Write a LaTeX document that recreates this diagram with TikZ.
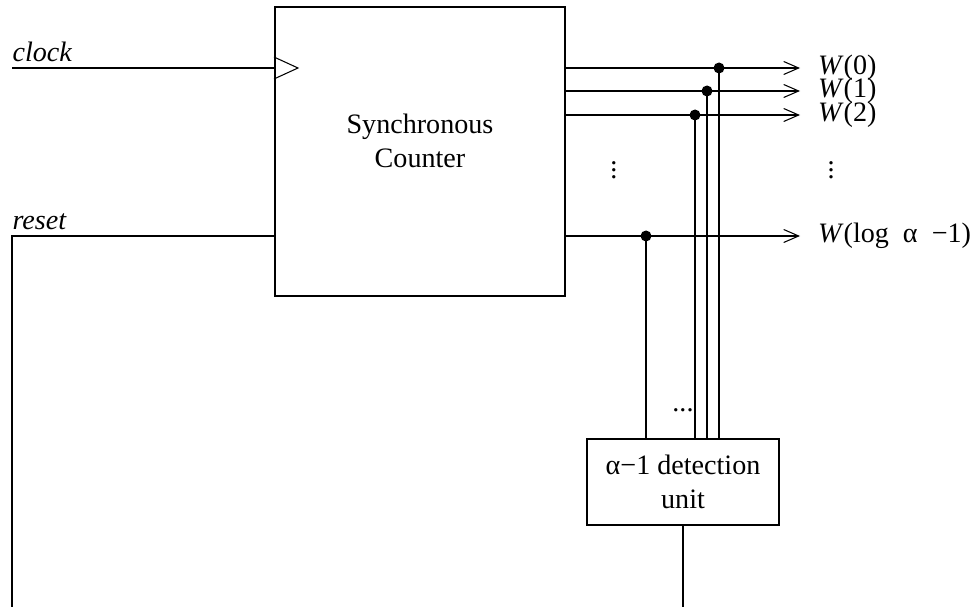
\documentclass[tikz,border=0pt]{standalone}
\usepackage{fontspec}
\setmainfont{Liberation Serif}
\usetikzlibrary{arrows.meta}

\begin{document}
\begin{tikzpicture}[x=0.02cm,y=-0.02cm,
	every text node part/.style={align=center},
	every node/.style={font=\fontsize{16}{19}\selectfont},
	wire/.style={line width=0.6pt},
	outwire/.style={wire,-{Straight Barb[length=3mm,width=2.6mm,line width=0.6pt]}},
	outlbl/.style={anchor=west,inner sep=0pt,xshift=10pt},
	blk/.style={draw,line width=1.2pt,rectangle,inner sep=0pt},
	jdot/.style={circle,fill,inner sep=0pt,minimum size=2.2mm}]
			\useasboundingbox (0,0) rectangle (979,607);
			% counter and detection unit
			\node[blk,minimum width=5.8cm,minimum height=5.78cm] (cnt) at (420,151.5) {};
			\node (cntlbl) at (420,141) {Synchronous\\Counter};
			\node[blk,minimum width=3.84cm,minimum height=1.72cm] (det) at (683,482) {};
			\node (detlbl) at (683,482) {α−1 detection\\unit};
			% clock and reset
			\coordinate (clkin) at (12,68);
			\coordinate (rstin) at (12,607);
			\draw[wire] (clkin) -- (clkin -| cnt.west) node[pos=0,anchor=south west,inner sep=0pt,yshift=3.5pt] (clklbl) {\textit{clock}};
			\draw[wire] ([yshift=0.22cm]clkin -| cnt.west) -- ++(24,11) -- ([yshift=-0.22cm]clkin -| cnt.west);
			\draw[wire] (cnt.west |- 0,236) -- (12,236) node[anchor=south west,inner sep=0pt,yshift=3.5pt] (rstlbl) {\textit{reset}} -- (rstin);
			% outputs
			\coordinate (o0) at (800,68);
			\coordinate (o1) at (800,91);
			\coordinate (o2) at (800,115);
			\coordinate (on) at (800,236);
			\draw[outwire] (cnt.east |- o0) -- (o0) node[outlbl] (w0) {\textit{W}(0)};
			\draw[outwire] (cnt.east |- o1) -- (o1) node[outlbl] (w1) {\textit{W}(1)};
			\draw[outwire] (cnt.east |- o2) -- (o2) node[outlbl] (w2) {\textit{W}(2)};
			\draw[outwire] (cnt.east |- on) -- (on) node[outlbl] (wn) {\textit{W}(log\ \ α\ \ −1)};
			\node (vd1) at (614,165) {\vdots};
			\node (vd2) at (831,165) {\vdots};
			% taps to detection unit
			\node[jdot] (d0) at (719,68) {};
			\node[jdot] (d1) at (707,91) {};
			\node[jdot] (d2) at (695,115) {};
			\node[jdot] (dn) at (646,236) {};
			\foreach \d in {d0,d1,d2,dn}
				\draw[wire] (\d.center) -- (\d |- det.north);
			\node (hdots) at (683,410) {...};
			\draw[wire] (det.south) -- (det.south |- rstin);
		\end{tikzpicture}
\end{document}
